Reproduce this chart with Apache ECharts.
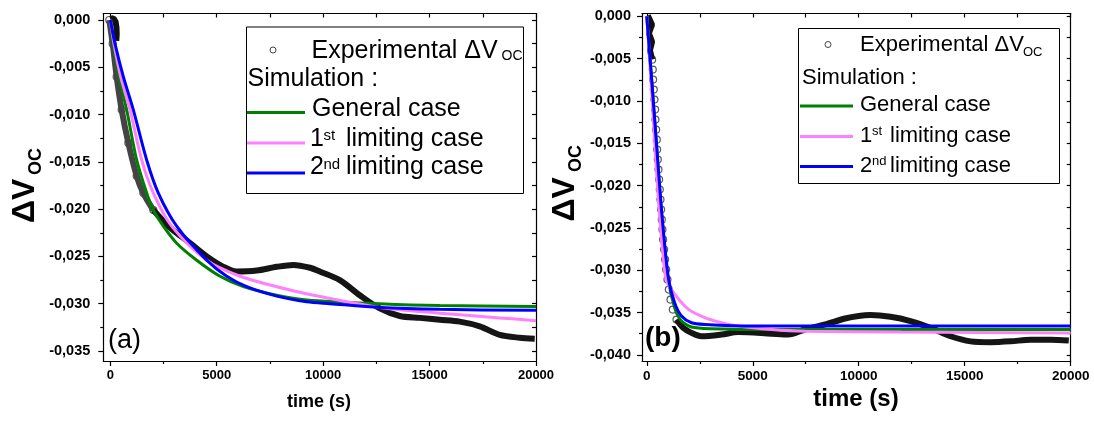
<!DOCTYPE html>
<html>
<head>
<meta charset="utf-8">
<script src="https://cdn.jsdelivr.net/npm/echarts@6/dist/echarts.min.js"></script>
<style>
html,body{margin:0;padding:0;background:#fff;}
#c{width:1094px;height:426px;}
</style>
</head>
<body>
<div id="c"></div>
<script>
// ---------- tick values ----------
const xMajor = [0, 5000, 10000, 15000, 20000];
const xMinor = [2500, 7500, 12500, 17500];
const xAll = [0, 2500, 5000, 7500, 10000, 12500, 15000, 17500, 20000];
const yMajorA = [0, -0.005, -0.010, -0.015, -0.020, -0.025, -0.030, -0.035];
const yMinorA = [-0.0025, -0.0075, -0.0125, -0.0175, -0.0225, -0.0275, -0.0325];
const yMajorB = [0, -0.005, -0.010, -0.015, -0.020, -0.025, -0.030, -0.035, -0.040];
const yMinorB = [-0.0025, -0.0075, -0.0125, -0.0175, -0.0225, -0.0275, -0.0325, -0.0375];

// ---------- panel (a) data [time (s), dVoc] ----------
const expA_blob = [[0, 0.0001], [150, 0.0002], [250, -0.0002], [290, -0.0008], [300, -0.0015], [280, -0.0022]];
const expA_steep = [[-50, 0], [110, -0.0025], [298, -0.0060], [533, -0.0095], [846, -0.0130], [1238, -0.0165], [1551, -0.0183], [2021, -0.0201]];
const expA_band = [[2021, -0.0201], [2727, -0.0218], [3745, -0.0236], [4529, -0.0250], [5312, -0.0261], [5939, -0.0266], [6879, -0.0265], [7819, -0.0261], [8603, -0.0259], [9386, -0.0262], [9840, -0.0266], [10780, -0.0275], [11720, -0.0291], [12660, -0.0305], [13600, -0.0313], [14540, -0.0315], [15480, -0.0317], [16420, -0.0319], [17360, -0.0324], [18300, -0.0333], [19230, -0.0336], [19940, -0.0337]];
const simA_general = [[0, 0], [141, -0.0025], [407, -0.0060], [768, -0.0095], [1238, -0.0148], [1708, -0.0183], [2021, -0.0201], [2492, -0.0218], [3118, -0.0236], [4059, -0.0254], [5155, -0.0271], [6252, -0.0282], [7819, -0.0291], [9229, -0.0296], [12660, -0.0300], [15480, -0.0302], [20000, -0.0303]];
const simA_first = [[0, 0], [172, -0.0025], [486, -0.0060], [925, -0.0095], [1473, -0.0148], [2021, -0.0183], [2883, -0.0218], [4529, -0.0254], [6096, -0.0271], [7819, -0.0282], [9543, -0.0291], [12660, -0.0304], [15480, -0.0310], [18300, -0.0315], [20000, -0.0318]];
const simA_second = [[0, 0], [219, -0.0025], [611, -0.0060], [1081, -0.0095], [1708, -0.0148], [2256, -0.0183], [3118, -0.0218], [4529, -0.0254], [5469, -0.0271], [6409, -0.0282], [7819, -0.0292], [9229, -0.0298], [10327, -0.0300], [12660, -0.0304], [15480, -0.0306], [20000, -0.0307]];

// ---------- panel (b) data ----------
const expB_blob = [[50, 0.0001], [250, -0.0010], [100, -0.0020], [250, -0.0030], [150, -0.0040], [252, -0.0051]];
const expB_circles = [[252, -0.00512], [284, -0.0063], [299, -0.00748], [331, -0.00866], [362, -0.00984], [394, -0.01102], [410, -0.0122], [441, -0.01339], [473, -0.01457], [488, -0.01575], [520, -0.01693], [551, -0.01811], [583, -0.01929], [614, -0.02047], [646, -0.02165], [677, -0.02283], [709, -0.02402], [740, -0.0252], [772, -0.02638], [819, -0.02756], [866, -0.02874], [914, -0.02992], [977, -0.0311], [1040, -0.03228], [1118, -0.03346], [1229, -0.03465], [1402, -0.03583]];
const expB_band = [[1402, -0.03583], [1717, -0.0368], [2111, -0.0374], [2583, -0.0378], [3528, -0.0376], [4315, -0.0373], [5890, -0.0375], [6678, -0.0376], [7465, -0.0370], [8410, -0.0364], [9355, -0.0357], [10000, -0.0354], [10553, -0.0353], [11498, -0.0355], [12443, -0.0360], [13389, -0.0368], [14334, -0.0378], [15279, -0.0384], [16224, -0.0385], [17170, -0.0384], [18115, -0.0382], [19060, -0.0382], [19910, -0.0383]];
const simB_general = [[0, 0], [220, -0.0072], [457, -0.0152], [693, -0.0232], [1008, -0.0310], [1323, -0.0345], [1638, -0.0360], [2110, -0.0367], [3000, -0.0369], [6000, -0.0370], [20000, -0.0370]];
const simB_first = [[0, 0], [189, -0.0071], [378, -0.0150], [583, -0.0228], [882, -0.0307], [1165, -0.0323], [1953, -0.0346], [2740, -0.0356], [3528, -0.0362], [4315, -0.0366], [5890, -0.0370], [7465, -0.0372], [12000, -0.0373], [20000, -0.0374]];
const simB_second = [[0, 0], [220, -0.0071], [457, -0.0150], [693, -0.0228], [1008, -0.0307], [1323, -0.0339], [1638, -0.0354], [2110, -0.0362], [2740, -0.0364], [5000, -0.0366], [20000, -0.0366]];

// ---------- styling ----------
const FONT = "'Liberation Sans', Arial, sans-serif";
const GREEN = '#008000', PINK = '#ff80ff', BLUE = '#0000ff';
const yFmt = v => (Math.abs(v) < 1e-9 ? '0,000' : v.toFixed(3).replace('.', ','));
const xFmt = v => String(Math.round(v));

function xAxes(gi, min, labelSize) {
  const base = {gridIndex: gi, type: 'value', min: min, max: 20000, splitLine: {show: false}};
  return [
    Object.assign({}, base, {position: 'bottom',
      axisLine: {show: true, onZero: false, lineStyle: {color: '#000', width: 1.2}},
      axisTick: {show: true, inside: false, length: 5, customValues: xMajor, lineStyle: {color: '#000', width: 1.2}},
      axisLabel: {show: true, customValues: xMajor, formatter: xFmt, margin: 8, color: '#000', fontFamily: FONT, fontWeight: 'bold', fontSize: labelSize}}),
    Object.assign({}, base, {position: 'bottom',
      axisLine: {show: false, onZero: false},
      axisTick: {show: true, inside: false, length: 3, customValues: xMinor, lineStyle: {color: '#000', width: 1.2}},
      axisLabel: {show: false}}),
    Object.assign({}, base, {position: 'top',
      axisLine: {show: true, onZero: false, lineStyle: {color: '#000', width: 1.2}},
      axisTick: {show: true, inside: true, length: 4, customValues: xAll, lineStyle: {color: '#000', width: 1.2}},
      axisLabel: {show: false}})
  ];
}
function yAxes(gi, min, max, major, minor, margin) {
  const base = {gridIndex: gi, type: 'value', min: min, max: max, splitLine: {show: false}};
  const all = major.concat(minor);
  return [
    Object.assign({}, base, {position: 'left',
      axisLine: {show: true, onZero: false, lineStyle: {color: '#000', width: 1.2}},
      axisTick: {show: true, inside: false, length: 5, customValues: major, lineStyle: {color: '#000', width: 1.2}},
      axisLabel: {show: true, customValues: major, formatter: yFmt, margin: margin, color: '#000', fontFamily: FONT, fontWeight: 'bold', fontSize: 14.5}}),
    Object.assign({}, base, {position: 'left',
      axisLine: {show: false, onZero: false},
      axisTick: {show: true, inside: false, length: 3, customValues: minor, lineStyle: {color: '#000', width: 1.2}},
      axisLabel: {show: false}}),
    Object.assign({}, base, {position: 'right',
      axisLine: {show: true, onZero: false, lineStyle: {color: '#000', width: 1.2}},
      axisTick: {show: true, inside: true, length: 4, customValues: all, lineStyle: {color: '#000', width: 1.2}},
      axisLabel: {show: false}})
  ];
}

function lineS(data, xi, yi, color, width, smooth) {
  return {type: 'line', data: data, xAxisIndex: xi, yAxisIndex: yi, symbol: 'none', smooth: smooth,
    lineStyle: {color: color, width: width}, itemStyle: {color: color}, silent: true, animation: false};
}
function circS(data, xi, yi) {
  return {type: 'scatter', data: data, xAxisIndex: xi, yAxisIndex: yi, symbol: 'circle', symbolSize: 7,
    itemStyle: {color: 'rgba(0,0,0,0)', borderColor: '#333', borderWidth: 1.2}, silent: true, animation: false};
}

function txt(x, y, s, font, extra) {
  return Object.assign({type: 'text', x: x, y: y, z: 120,
    style: {text: s, font: font, fill: '#000', align: 'left', verticalAlign: 'middle'}}, extra || {});
}
function hline(x1, x2, y, color) {
  return {type: 'line', z: 120, shape: {x1: x1, y1: y, x2: x2, y2: y}, style: {stroke: color, lineWidth: 3}};
}

const L = (sz) => sz + 'px ' + FONT;
const B = (sz) => 'bold ' + sz + 'px ' + FONT;

const graphics = [
  // legend (a)
  {type: 'rect', z: 110, shape: {x: 246.5, y: 27, width: 277, height: 166.5}, style: {fill: '#fff', stroke: '#000', lineWidth: 1}},
  {type: 'circle', z: 120, shape: {cx: 273, cy: 50, r: 3}, style: {fill: 'none', stroke: '#444', lineWidth: 1}},
  txt(311.5, 51, 'Experimental ΔV', L(25)),
  txt(501.5, 56, 'OC', L(14)),
  txt(247.5, 79, 'Simulation :', L(25)),
  hline(247, 305, 112.5, GREEN), txt(312, 109, 'General case', L(25)),
  hline(247, 305, 143, PINK), txt(310, 139, '1', L(25)), txt(323.5, 136, 'st', L(15)), txt(346, 139, 'limiting case', L(25)),
  hline(247, 305, 173, BLUE), txt(310, 167.5, '2', L(25)), txt(323.5, 164.5, 'nd', L(15)), txt(346, 167.5, 'limiting case', L(25)),
  // legend (b)
  {type: 'rect', z: 110, shape: {x: 798.5, y: 28.5, width: 261, height: 155}, style: {fill: '#fff', stroke: '#000', lineWidth: 1}},
  {type: 'circle', z: 120, shape: {cx: 828, cy: 44.5, r: 3}, style: {fill: 'none', stroke: '#444', lineWidth: 1}},
  txt(860, 45, 'Experimental ΔV', L(22)),
  txt(1023, 52, 'OC', L(13)),
  txt(802, 77.5, 'Simulation :', L(22)),
  hline(800, 853, 106, GREEN), txt(860, 105, 'General case', L(22)),
  hline(800, 853, 136.5, PINK), txt(860, 135.5, '1', L(22)), txt(872, 131.5, 'st', L(13)), txt(890, 135.5, 'limiting case', L(22)),
  hline(800, 853, 166.5, BLUE), txt(860, 165.5, '2', L(22)), txt(872, 161.5, 'nd', L(13)), txt(890, 165.5, 'limiting case', L(22)),
  // panel letters
  txt(108, 341, '(a)', L(27)),
  txt(645, 338, '(b)', B(28)),
  // axis titles
  txt(319, 402, 'time (s)', B(18), {style: {text: 'time (s)', font: B(18), fill: '#000', align: 'center', verticalAlign: 'middle'}}),
  txt(856, 399, 'time (s)', B(24), {style: {text: 'time (s)', font: B(24), fill: '#000', align: 'center', verticalAlign: 'middle'}}),
  txt(25, 223, 'ΔV', B(32), {rotation: Math.PI / 2}),
  txt(36.5, 175, 'OC', B(18), {rotation: Math.PI / 2}),
  txt(565, 221.5, 'ΔV', B(32), {rotation: Math.PI / 2}),
  txt(576.5, 172, 'OC', B(18), {rotation: Math.PI / 2})
];

const option = {
  backgroundColor: '#fff',
  animation: false,
  grid: [
    {left: 103.3, top: 13.5, width: 432.7, height: 347.5},
    {left: 642, top: 13.5, width: 428.7, height: 347.5}
  ],
  xAxis: xAxes(0, -330, 13).concat(xAxes(1, -225, 13.5)),
  yAxis: yAxes(0, -0.03606, 0.00069, yMajorA, yMinorA, 13).concat(yAxes(1, -0.04072, 0.00033, yMajorB, yMinorB, 11)),
  series: [
    lineS(expA_blob, 0, 0, '#111', 6, false),
    lineS(expA_steep, 0, 0, '#444', 6, 0.3),
    circS(expA_steep, 0, 0),
    lineS(expA_band, 0, 0, '#151515', 6, 0.3),
    lineS(simA_general, 0, 0, GREEN, 3, 0.3),
    lineS(simA_first, 0, 0, PINK, 3, 0.3),
    lineS(simA_second, 0, 0, BLUE, 3, 0.3),

    lineS(expB_blob, 3, 3, '#111', 6, false),
    circS(expB_circles, 3, 3),
    lineS(expB_band, 3, 3, '#151515', 6, 0.3),
    lineS(simB_general, 3, 3, GREEN, 3, 0.25),
    lineS(simB_first, 3, 3, PINK, 3, 0.25),
    lineS(simB_second, 3, 3, BLUE, 3, 0.25)
  ],
  graphic: graphics
};

const chart = echarts.init(document.getElementById('c'), null, {renderer: 'canvas'});
chart.setOption(option);
</script>
</body>
</html>
